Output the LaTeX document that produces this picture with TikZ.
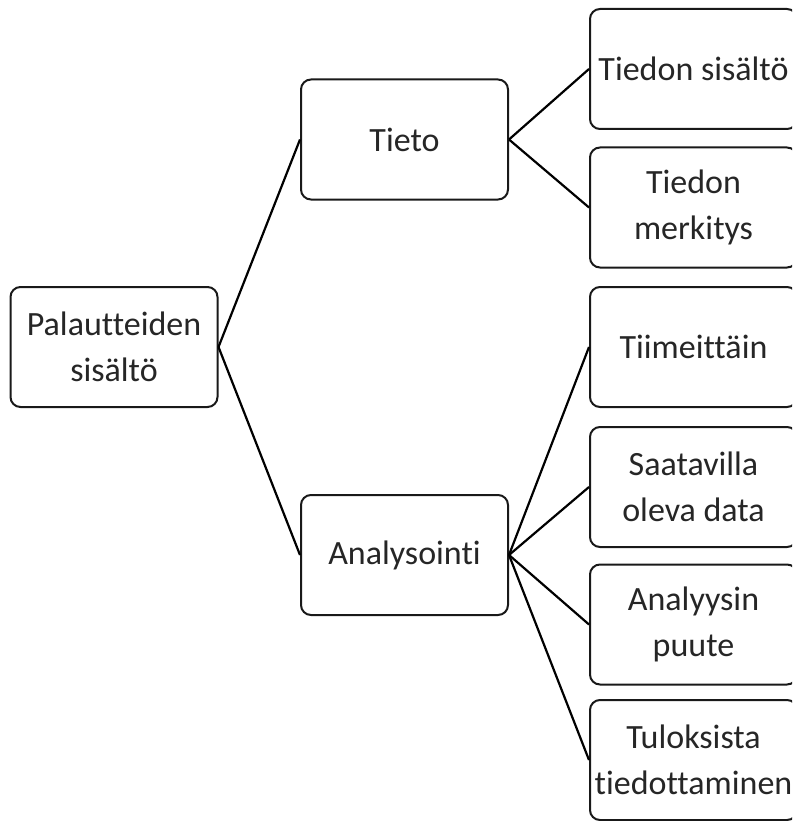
\documentclass[tikz,border=0pt]{standalone}
\usepackage{fontspec}
\setmainfont{Carlito}[Ligatures={NoCommon}]
\begin{document}
\begin{tikzpicture}[x=1pt,y=-1pt,
  box/.style={draw=black!90, line width=2pt, rounded corners=10pt, minimum width=207pt, minimum height=120pt, align=center, inner sep=0pt, font=\fontsize{34}{46}\selectfont, text=black!85},
  conn/.style={draw=black, line width=2.2pt}]
\useasboundingbox (0,0) rectangle (792,821);
\clip (0,0) rectangle (792,821);
\node[box] (root) at (114,347) {Palautteiden\\sisältö};
\node[box] (tieto) at (404.5,139.5) {Tieto};
\node[box] (anal) at (404.5,555) {Analysointi};
\node[box] (c1) at (693.5,69) {Tiedon sisältö};
\node[box] (c2) at (693.5,207.5) {Tiedon\\merkitys};
\node[box] (c3) at (693.5,347) {Tiimeittäin};
\node[box] (c4) at (693.5,487) {Saatavilla\\oleva data};
\node[box] (c5) at (693.5,624.5) {Analyysin\\puute};
\node[box] (c6) at (693.5,760) {Tuloksista\\tiedottaminen};
\draw[conn] (root.east) -- (tieto.west);
\draw[conn] (root.east) -- (anal.west);
\draw[conn] (tieto.east) -- (c1.west);
\draw[conn] (tieto.east) -- (c2.west);
\draw[conn] (anal.east) -- (c3.west);
\draw[conn] (anal.east) -- (c4.west);
\draw[conn] (anal.east) -- (c5.west);
\draw[conn] (anal.east) -- (c6.west);
\end{tikzpicture}
\end{document}
